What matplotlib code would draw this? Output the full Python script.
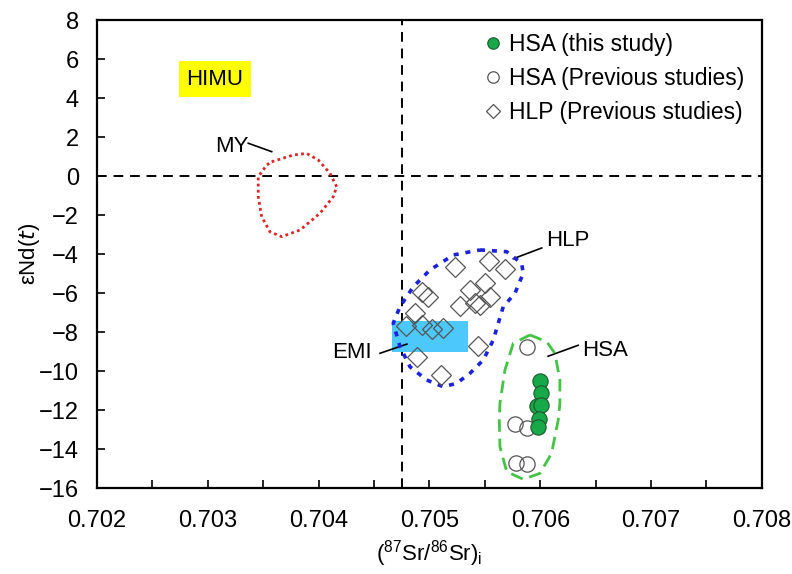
import numpy as np
import matplotlib
matplotlib.use("Agg")
from matplotlib import pyplot as plt
from matplotlib.patches import Rectangle

plt.rcParams['font.family'] = ['Liberation Sans', 'DejaVu Sans']
plt.rcParams['mathtext.default'] = 'regular'
plt.rcParams['font.size'] = 16

# -----------------------------------------------------------#
# Data
# -----------------------------------------------------------#
# HSA (this study)
hsa_sr = [0.70600, 0.70601, 0.70597, 0.70601, 0.70599, 0.70598]
hsa_nd = [-10.50, -11.11, -11.79, -11.75, -12.48, -12.89]

# HSA (previous studies)
hsa_prev_sr = [0.70588, 0.70577, 0.70588, 0.70578, 0.70588]
hsa_prev_nd = [-8.79, -12.72, -12.94, -14.74, -14.77]

# HLP (previous studies)
hlp_sr = [0.70523, 0.70554, 0.70568, 0.70493, 0.70499, 0.70537, 0.70550,
          0.70555, 0.70528, 0.70541, 0.70546, 0.70487, 0.70479, 0.70493,
          0.70502, 0.70512, 0.70544, 0.70489, 0.70510]
hlp_nd = [-4.65, -4.36, -4.79, -5.93, -6.19, -5.85, -5.50,
          -6.19, -6.67, -6.53, -6.62, -7.04, -7.69, -7.64,
          -7.85, -7.80, -8.72, -9.27, -10.20]

# field outlines
my_sr = [0.703576, 0.703771, 0.703892, 0.703997, 0.704102, 0.704163, 0.704132,
         0.704012, 0.703832, 0.703666, 0.703561, 0.703486, 0.703455, 0.703455,
         0.703531]
my_nd = [0.73, 1.08, 1.16, 0.82, 0.14, -0.55, -1.06,
         -1.91, -2.77, -3.11, -2.86, -2.09, -1.06, -0.04, 0.56]

hlp_f_sr = [0.705456, 0.705697, 0.705832, 0.705846, 0.705771, 0.705666, 0.705621,
            0.705576, 0.705485, 0.705365, 0.705245, 0.705125, 0.704975, 0.704824,
            0.704734, 0.704673, 0.704734, 0.704854, 0.705004, 0.705215]
hlp_f_nd = [-3.79, -3.88, -4.48, -4.99, -6.02, -6.70, -7.55,
            -8.41, -9.44, -10.12, -10.63, -10.81, -10.46, -9.78,
            -8.75, -7.55, -6.70, -5.68, -4.82, -4.05]

hsa_f_sr = [0.705907, 0.706058, 0.706132, 0.706177, 0.706177, 0.706162, 0.706102,
            0.705997, 0.705846, 0.705697, 0.705636, 0.705630, 0.705636, 0.705681,
            0.705756]
hsa_f_nd = [-8.15, -8.50, -9.09, -10.46, -11.66, -12.51, -14.22,
            -15.25, -15.55, -15.16, -13.88, -12.51, -11.66, -9.95, -8.58]

# EMI box
emi_sr = [0.70466, 0.70535]
emi_nd = [-9.01, -7.44]

# reference lines
sr_line = 0.70475
nd_line = 0.0

# -----------------------------------------------------------#
# Figure
# -----------------------------------------------------------#
fig = plt.figure(figsize=(7.92, 5.74), dpi=100)
ax = fig.add_axes([0.1225, 0.1498, 0.8395, 0.8153])
ax.set_xlim(0.702, 0.708)
ax.set_ylim(-16, 8)

ax.axvline(sr_line, color='black', lw=1.4, ls=(0, (5, 3.5)), zorder=1)
ax.axhline(nd_line, color='black', lw=1.4, ls=(0, (5, 3.5)), zorder=1)

ax.add_patch(Rectangle((emi_sr[0], emi_nd[0]), emi_sr[1] - emi_sr[0],
                       emi_nd[1] - emi_nd[0], facecolor='#4dc8fd',
                       edgecolor='none', zorder=2))

ax.plot(my_sr + my_sr[:1], my_nd + my_nd[:1], color='#e02424', lw=2,
        ls=(0, (1, 1.2)), zorder=3)
ax.plot(hlp_f_sr + hlp_f_sr[:1], hlp_f_nd + hlp_f_nd[:1], color='#1a22dd',
        lw=2.6, ls=(0, (1.4, 1.9)), zorder=3)
ax.plot(hsa_f_sr + hsa_f_sr[:1], hsa_f_nd + hsa_f_nd[:1], color='#44c444',
        lw=2, ls=(0, (4.5, 2.5)), zorder=3)

ax.plot(hlp_sr, hlp_nd, 'D', ms=10, mfc='none', mec='#555555', mew=0.9,
        ls='none', zorder=4, label='HLP (Previous studies)')
ax.plot(hsa_prev_sr, hsa_prev_nd, 'o', ms=11, mfc='none', mec='#555555',
        mew=0.9, ls='none', zorder=4, label='HSA (Previous studies)')
ax.plot(hsa_sr, hsa_nd, 'o', ms=11, mfc='#17a84a', mec='#1d5a2c',
        mew=0.8, ls='none', zorder=5, label='HSA (this study)')

# labels and leader lines
ax.text(0.703065, 4.97, 'HIMU', ha='center', va='center', fontsize=16,
        bbox=dict(boxstyle='square,pad=0.35', facecolor='#ffff00', edgecolor='none'))
ax.text(0.703216, 1.5, 'MY', ha='center', va='center', fontsize=16)
ax.plot([0.703365, 0.703576], [1.68, 1.25], color='black', lw=1.2)
ax.text(0.706051, -3.33, 'HLP', ha='left', va='center', fontsize=16)
ax.plot([0.705757, 0.706013], [-4.24, -3.69], color='black', lw=1.2)
ax.text(0.704481, -9.03, 'EMI', ha='right', va='center', fontsize=16)
ax.plot([0.704554, 0.704796], [-9.09, -8.62], color='black', lw=1.2)
ax.text(0.706376, -8.97, 'HSA', ha='left', va='center', fontsize=16)
ax.plot([0.706071, 0.706342], [-9.24, -8.68], color='black', lw=1.2)

# axes styling
ax.set_xticks(np.arange(0.702, 0.70801, 0.001))
ax.set_xticklabels(['0.702', '0.703', '0.704', '0.705', '0.706', '0.707', '0.708'])
ax.set_xticks(np.arange(0.7025, 0.708, 0.001), minor=True)
ax.set_yticks(np.arange(-16, 9, 2))
ax.tick_params(axis='both', which='both', direction='in', length=6, width=1.2,
               labelsize=17, top=False, right=False)
ax.tick_params(axis='x', which='both', pad=16)
ax.tick_params(axis='y', pad=13)
for sp in ax.spines.values():
    sp.set_linewidth(1.6)

ax.set_xlabel(r'($^{87}$Sr/$^{86}$Sr)$_{i}$', fontsize=16, labelpad=4)
ax.set_ylabel(r'εNd($\it{t}$)', fontsize=16, labelpad=-2)

handles, labels = ax.get_legend_handles_labels()
order = [2, 1, 0]
leg = ax.legend([handles[i] for i in order], [labels[i] for i in order],
                loc='upper left', bbox_to_anchor=(0.582, 0.972), frameon=False,
                handlelength=0.8, handletextpad=0.28, borderpad=0,
                borderaxespad=0, labelspacing=0.48, markerscale=0.75,
                fontsize=16.5)

fig.savefig('out.png', dpi=100)
